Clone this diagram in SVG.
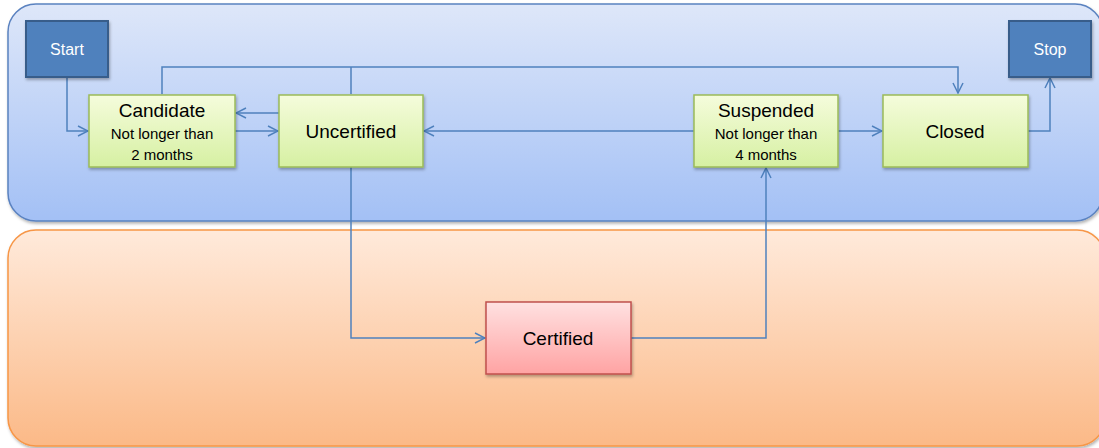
<svg xmlns="http://www.w3.org/2000/svg" width="1099" height="448" viewBox="0 0 1099 448">
<defs>
<linearGradient id="gBlue" x1="0" y1="0" x2="0" y2="1"><stop offset="0" stop-color="#DEE7F9"/><stop offset="1" stop-color="#A3C0F5"/></linearGradient>
<linearGradient id="gOrange" x1="0" y1="0" x2="0" y2="1"><stop offset="0" stop-color="#FFEADB"/><stop offset="1" stop-color="#FBB987"/></linearGradient>
<linearGradient id="gGreen" x1="0" y1="0" x2="0" y2="1"><stop offset="0" stop-color="#F5FCDC"/><stop offset="1" stop-color="#D6F0A2"/></linearGradient>
<linearGradient id="gRed" x1="0" y1="0" x2="0" y2="1"><stop offset="0" stop-color="#FFE1E1"/><stop offset="1" stop-color="#FFA3A3"/></linearGradient>
<filter id="sh" x="-10%" y="-10%" width="130%" height="140%"><feDropShadow dx="1" dy="2" stdDeviation="1.5" flood-color="#000" flood-opacity="0.3"/></filter>
<marker id="arr" markerWidth="12" markerHeight="12" viewBox="0 0 12 12" refX="11" refY="6" orient="auto" markerUnits="userSpaceOnUse"><path d="M1,1 L11,6 L1,11" fill="none" stroke="#4F81BD" stroke-width="1.5"/></marker>
</defs>
<style>
.lane{stroke-width:1.5}
.g{fill:url(#gGreen);stroke:#9BBB59;stroke-width:1.5;filter:url(#sh)}
.b{fill:#4F81BD;stroke:#385D8A;stroke-width:2;filter:url(#sh)}
.r{fill:url(#gRed);stroke:#C0504D;stroke-width:1.5;filter:url(#sh)}
.t{font-family:"Liberation Sans",Arial,sans-serif;fill:#000;text-anchor:middle}
.big{font-size:19px}
.sm{font-size:15px}
.w{font-family:"Liberation Sans",Arial,sans-serif;fill:#fff;text-anchor:middle;font-size:16px}
.c{fill:none;stroke:#4F81BD;stroke-width:1.5}
</style>
<rect width="1099" height="448" fill="#fff"/>
<g id="lane-top"><rect class="lane" x="8" y="4" width="1095" height="217" rx="28" fill="url(#gBlue)" stroke="#5A82C0" filter="url(#sh)"/></g>
<g id="lane-bottom"><rect class="lane" x="8" y="230" width="1097" height="216" rx="28" fill="url(#gOrange)" stroke="#F79646" filter="url(#sh)"/></g>
<g id="connectors">
<path class="c" d="M67,77 V131 H88" marker-end="url(#arr)"/>
<path class="c" d="M235,131 H278" marker-end="url(#arr)"/>
<path class="c" d="M279,113 H236" marker-end="url(#arr)"/>
<path class="c" d="M162,94 V67 H958 V93" marker-end="url(#arr)"/>
<path class="c" d="M351,94 V67"/>
<path class="c" d="M694,131 H424" marker-end="url(#arr)"/>
<path class="c" d="M838,131 H882" marker-end="url(#arr)"/>
<path class="c" d="M1028,131 H1050 V78" marker-end="url(#arr)"/>
<path class="c" d="M351,167 V338 H485" marker-end="url(#arr)"/>
<path class="c" d="M631,338 H766 V168" marker-end="url(#arr)"/>
</g>
<g id="start"><rect class="b" x="26" y="21" width="82" height="56"/><text class="w" x="67" y="55">Start</text></g>
<g id="stop"><rect class="b" x="1009" y="21" width="82" height="56"/><text class="w" x="1050" y="55">Stop</text></g>
<g id="candidate"><rect class="g" x="89" y="95" width="146" height="72"/><text class="t big" x="162" y="117">Candidate</text><text class="t sm" x="162" y="139">Not longer than</text><text class="t sm" x="162" y="160">2 months</text></g>
<g id="uncertified"><rect class="g" x="279" y="95" width="144" height="72"/><text class="t big" x="351" y="138">Uncertified</text></g>
<g id="suspended"><rect class="g" x="694" y="95" width="144" height="72"/><text class="t big" x="766" y="117">Suspended</text><text class="t sm" x="766" y="139">Not longer than</text><text class="t sm" x="766" y="160">4 months</text></g>
<g id="closed"><rect class="g" x="883" y="95" width="145" height="72"/><text class="t big" x="955" y="138">Closed</text></g>
<g id="certified"><rect class="r" x="486" y="302" width="145" height="72"/><text class="t big" x="558" y="345">Certified</text></g>
</svg>
